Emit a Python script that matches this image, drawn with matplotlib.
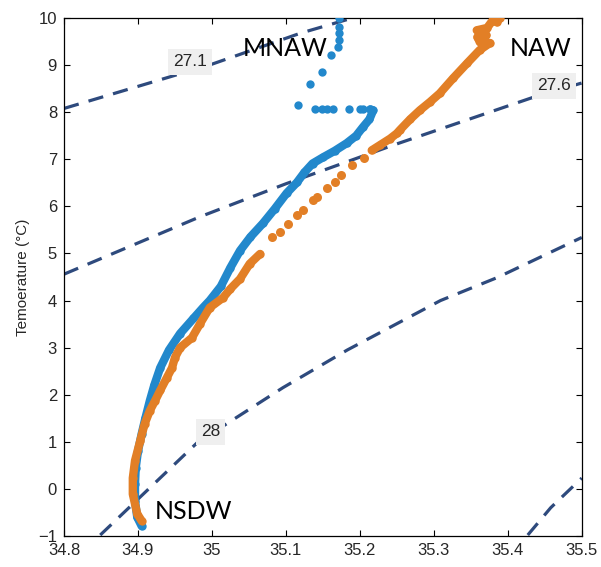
import matplotlib
matplotlib.use('Agg')
import matplotlib.pyplot as plt

# isopycnals (salinity, temperature)
iso_271_s = [34.80, 34.943, 35.00, 35.12, 35.19]
iso_271_t = [8.08, 8.75, 9.02, 9.68, 10.0]
iso_276_s = [34.80, 34.984, 35.10, 35.245, 35.435, 35.50]
iso_276_t = [4.56, 5.78, 6.48, 7.30, 8.32, 8.62]
iso_28_s = [34.849, 34.98, 35.096, 35.183, 35.309, 35.386, 35.50]
iso_28_t = [-0.98, 0.98, 2.15, 2.95, 4.00, 4.49, 5.34]
iso_28x_s = [35.427, 35.458, 35.50]
iso_28x_t = [-0.98, -0.40, 0.23]

# blue profile: continuous part and scattered upper points
blue_s = [34.905, 34.899, 34.896, 34.896, 34.897, 34.900, 34.905, 34.910, 34.916,
          34.922, 34.930, 34.942, 34.957, 34.975, 34.988, 34.997, 35.012, 35.025,
          35.038, 35.052, 35.069, 35.085, 35.101, 35.115, 35.125, 35.136, 35.150,
          35.166, 35.182, 35.195, 35.204, 35.213, 35.218, 35.214]
blue_t = [-0.79, -0.60, -0.26, 0.10, 0.45, 0.80, 1.17, 1.50, 1.87,
          2.20, 2.57, 2.95, 3.30, 3.62, 3.85, 4.00, 4.30, 4.70,
          5.06, 5.35, 5.64, 5.95, 6.28, 6.51, 6.72, 6.91, 7.04,
          7.18, 7.34, 7.50, 7.68, 7.85, 8.04, 8.06]
blue_dot_s = [35.139, 35.149, 35.155, 35.164, 35.185, 35.200, 35.204, 35.116, 35.132,
              35.149, 35.161, 35.170, 35.172, 35.172, 35.172, 35.172]
blue_dot_t = [8.06, 8.06, 8.06, 8.06, 8.07, 8.07, 8.06, 8.15, 8.60,
              8.85, 9.21, 9.38, 9.53, 9.68, 9.81, 10.0]

# orange profile: dense bottom, dotted middle, dense top
orange_low_s = [34.905, 34.899, 34.893, 34.893, 34.896, 34.903, 34.909, 34.916, 34.923,
                34.930, 34.939, 34.946, 34.950, 34.957, 34.973, 34.984, 34.997, 35.015,
                35.025, 35.038, 35.051, 35.065]
orange_low_t = [-0.68, -0.53, -0.11, 0.23, 0.60, 1.02, 1.38, 1.66, 1.87,
                2.09, 2.36, 2.57, 2.79, 3.00, 3.21, 3.51, 3.85, 4.06,
                4.25, 4.46, 4.78, 4.99]
orange_mid_s = [35.081, 35.092, 35.103, 35.115, 35.123, 35.137,
                35.142, 35.155, 35.166, 35.175, 35.189, 35.205]
orange_mid_t = [5.35, 5.45, 5.63, 5.81, 5.92, 6.13,
                6.20, 6.38, 6.52, 6.66, 6.87, 7.02]
orange_up_s = [35.216, 35.227, 35.241, 35.250, 35.254, 35.268, 35.281, 35.295, 35.308,
               35.326, 35.345, 35.362, 35.376, 35.362, 35.359, 35.371, 35.358, 35.372,
               35.380, 35.385, 35.389]
orange_up_t = [7.19, 7.30, 7.44, 7.55, 7.62, 7.85, 8.04, 8.22, 8.40,
               8.72, 9.04, 9.32, 9.47, 9.49, 9.60, 9.64, 9.74, 9.79,
               9.96, 9.91, 10.0]

iso_labels = ['27.1', '27.6', '28']
iso_label_s = [34.970, 35.462, 34.998]
iso_label_t = [9.07, 8.56, 1.21]

water_names = ['MNAW', 'NAW', 'NSDW']
water_s = [35.099, 35.445, 34.975]
water_t = [9.36, 9.36, -0.47]

BLUE = '#2288cc'
ORANGE = '#e27f26'
NAVY = '#2e4a7d'

plt.rcParams['font.family'] = ['Liberation Sans', 'DejaVu Sans']

fig = plt.figure(figsize=(6.01, 5.67), dpi=100)
ax = fig.add_axes([0.1065, 0.0547, 0.8615, 0.9135])

for s, t in [(iso_271_s, iso_271_t), (iso_276_s, iso_276_t),
             (iso_28_s, iso_28_t), (iso_28x_s, iso_28x_t)]:
    ax.plot(s, t, color=NAVY, lw=2.3, dashes=(4.8, 3.2), zorder=2)

ax.plot(blue_s, blue_t, color=BLUE, lw=6.0, marker='o', ms=6, mec='none',
        solid_capstyle='round', solid_joinstyle='round', zorder=3)
ax.plot(blue_dot_s, blue_dot_t, 'o', color=BLUE, ms=6, mec='none', zorder=3)

ax.plot(orange_low_s, orange_low_t, color=ORANGE, lw=6.0, marker='o', ms=6, mec='none',
        solid_capstyle='round', solid_joinstyle='round', zorder=4)
ax.plot(orange_mid_s, orange_mid_t, 'o', color=ORANGE, ms=6.5, mec='none', zorder=4)
ax.plot(orange_up_s, orange_up_t, color=ORANGE, lw=6.0, marker='o', ms=6, mec='none',
        solid_capstyle='round', solid_joinstyle='round', zorder=4)

for lab, s, t in zip(iso_labels, iso_label_s, iso_label_t):
    ax.text(s, t, lab, fontsize=12.5, color='#262626', ha='center', va='center', zorder=6,
            bbox=dict(boxstyle='square,pad=0.3', fc='#efefef', ec='none'))

for name, s, t in zip(water_names, water_s, water_t):
    ax.text(s, t, name, fontsize=18, color='black', ha='center', va='center',
            family=['Lato', 'DejaVu Sans'], zorder=6)

ax.set_xlim(34.8, 35.5)
ax.set_ylim(-1, 10)
ax.set_xticks([34.8, 34.9, 35.0, 35.1, 35.2, 35.3, 35.4, 35.5])
ax.set_xticklabels(['34.8', '34.9', '35', '35.1', '35.2', '35.3', '35.4', '35.5'])
ax.set_yticks(range(-1, 11))
ax.set_yticklabels(['\u22121'] + [str(v) for v in range(0, 11)])
ax.tick_params(direction='in', top=True, right=True, length=4, width=0.8,
               labelsize=12, labelcolor='#262626', pad=5)
for sp in ax.spines.values():
    sp.set_linewidth(0.9)
ax.set_ylabel('Temoerature (\u00b0C)', fontsize=11, color='#262626', labelpad=6)

fig.savefig('out.png', dpi=100)
